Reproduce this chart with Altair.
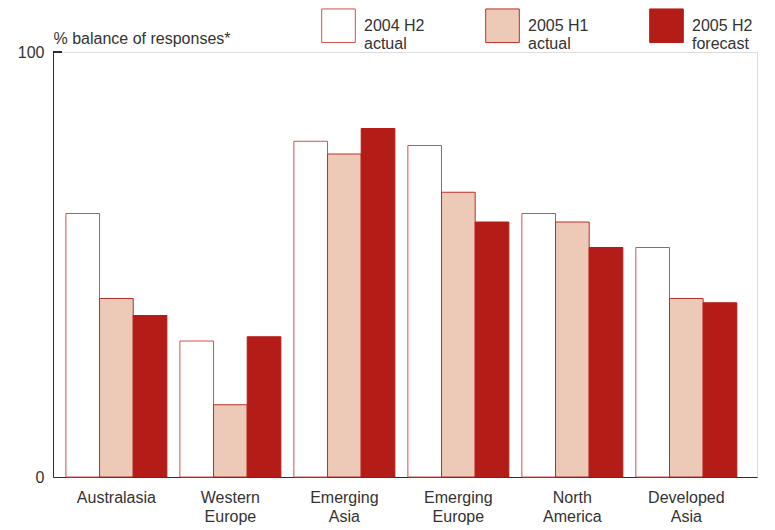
import altair as alt
import pandas as pd

# Regions and survey waves
regions = ["Australasia", "Western Europe", "Emerging Asia", "Emerging Europe",
           "North America", "Developed Asia"]
series = ["2004 H2 actual", "2005 H1 actual", "2005 H2 forecast"]

# % balance of responses per region and wave
h2_2004 = [62, 32, 79, 78, 62, 54]
h1_2005 = [42, 17, 76, 67, 60, 42]
h2_2005 = [38, 33, 82, 60, 54, 41]

rows = []
for vals, s in zip([h2_2004, h1_2005, h2_2005], series):
    for r, v in zip(regions, vals):
        rows.append({"region": r, "series": s, "value": v})
df = pd.DataFrame(rows)

FONT = "Liberation Sans"
TEXT = "#333333"
AXIS = "#2b2b45"

fills = ["#ffffff", "#edcab8", "#b41c17"]
strokes = ["#d0504c", "#b8302a", "#b41c17"]

bars = alt.Chart(df).mark_bar(strokeWidth=1).encode(
    x=alt.X(
        "region:N",
        sort=regions,
        scale=alt.Scale(paddingInner=0.114, paddingOuter=0.145, align=0.39),
        axis=alt.Axis(
            title=None,
            labelExpr="split(datum.label, ' ')",
            labelFont=FONT,
            labelFontSize=16,
            labelColor=TEXT,
            labelAngle=0,
            labelBaseline="top",
            labelLineHeight=19,
            labelPadding=12,
            ticks=False,
            domainColor=AXIS,
            domainWidth=1,
        ),
    ),
    xOffset=alt.XOffset("series:N", sort=series,
                        scale=alt.Scale(paddingInner=0, paddingOuter=0)),
    y=alt.Y(
        "value:Q",
        scale=alt.Scale(domain=[0, 100], nice=False),
        axis=alt.Axis(
            title="% balance of responses*",
            titleAngle=0,
            titleAlign="left",
            titleBaseline="alphabetic",
            titleX=0,
            titleY=-9,
            titleFont=FONT,
            titleFontSize=16,
            titleFontWeight="normal",
            titleColor=TEXT,
            values=[0, 100],
            labelFont=FONT,
            labelFontSize=16,
            labelColor=TEXT,
            labelPadding=9,
            ticks=False,
            grid=False,
            domainColor=AXIS,
            domainWidth=1,
        ),
    ),
    fill=alt.Fill(
        "series:N",
        sort=series,
        scale=alt.Scale(domain=series, range=fills),
        legend=alt.Legend(
            title=None,
            orient="none",
            legendX=268,
            legendY=-44,
            direction="horizontal",
            columns=3,
            columnPadding=58,
            symbolType="square",
            symbolSize=1130,
            symbolStrokeWidth=1,
            labelExpr="[slice(datum.label, 0, 7), slice(datum.label, 8)]",
            labelFont=FONT,
            labelFontSize=16,
            labelColor=TEXT,
            labelOffset=8,
        ),
    ),
    stroke=alt.Stroke(
        "series:N",
        sort=series,
        scale=alt.Scale(domain=series, range=strokes),
        legend=None,
    ),
)

# short inward tick at the top of the value axis
top_tick = alt.Chart(df).mark_rule(color=AXIS, strokeWidth=1).encode(
    y=alt.datum(100),
    x=alt.value(0),
    x2=alt.value(9),
)

chart = alt.layer(bars, top_tick).properties(
    width=704,
    height=425,
    autosize=alt.AutoSizeParams(type="none"),
    padding={"left": 53, "top": 52, "right": 18, "bottom": 53},
).configure_view(stroke=None).configure(background="white")

chart.save("out.html", embed_options={"renderer": "svg", "actions": False})
